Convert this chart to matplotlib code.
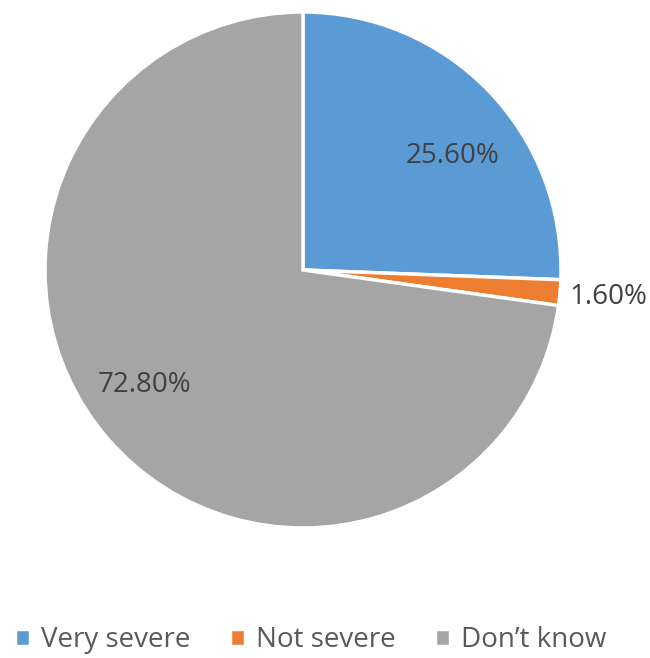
import numpy as np
import matplotlib.pyplot as plt

categories = ['Very severe', 'Not severe', 'Don\u2019t know']
shares = [25.6, 1.6, 72.8]
colors = ['#5B9BD5', '#ED7D31', '#A5A5A5']

plt.rcParams['font.family'] = ['Open Sans', 'DejaVu Sans']
label_color = '#404040'
legend_color = '#595959'

fig = plt.figure(figsize=(6.5, 6.58), dpi=100)
ax = fig.add_axes([45/650, 130/658, 516/650, 516/658])

wedges, texts, autotexts = ax.pie(
    shares, colors=colors, startangle=90, counterclock=False,
    autopct='%.2f%%', pctdistance=0.73,
    wedgeprops=dict(edgecolor='white', linewidth=2.5),
    textprops=dict(color=label_color, fontsize=20))

# nudge labels to where the original puts them
offsets = [-6.5, 0, -5]   # degrees
radii = [0.73, 1.19, 0.76]
for w, t, da, r in zip(wedges, autotexts, offsets, radii):
    ang = np.deg2rad((w.theta1 + w.theta2) / 2 + da)
    t.set_position((r * np.cos(ang), r * np.sin(ang)))

ax.set_xlim(-1, 1)
ax.set_ylim(-1, 1)
ax.set_aspect('auto')

leg = fig.legend(wedges, categories, loc='center left', bbox_to_anchor=(15/650, 0.027),
                 ncol=3, frameon=False, fontsize=20, handlelength=0.55,
                 handleheight=0.55, handletextpad=0.4, columnspacing=1.4,
                 borderpad=0, borderaxespad=0)
for t in leg.get_texts():
    t.set_color(legend_color)

fig.savefig('out.png', dpi=100)
